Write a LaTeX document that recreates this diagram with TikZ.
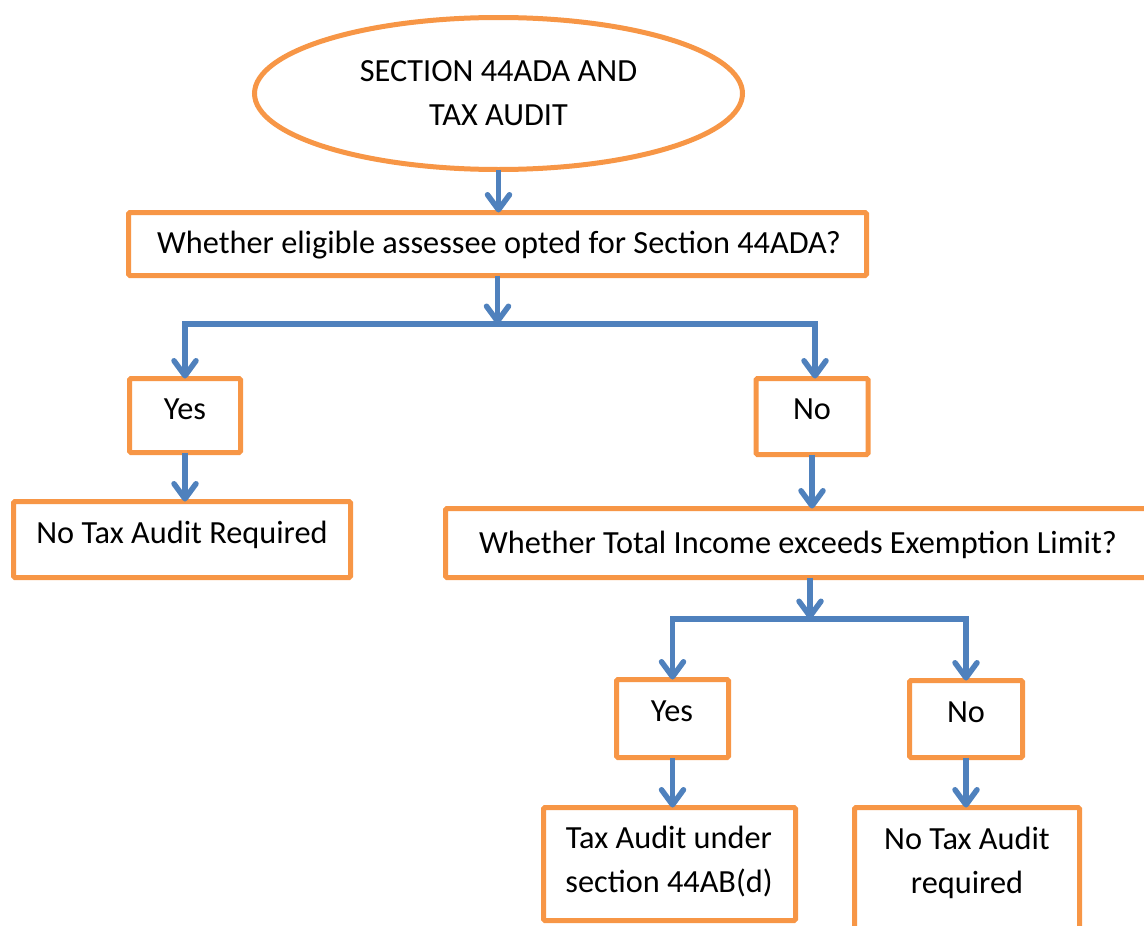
\documentclass[tikz,border=0pt]{standalone}
\usepackage{fontspec}
\setmainfont{Carlito}
\usetikzlibrary{arrows.meta,shapes.geometric}
\definecolor{boxorange}{HTML}{F79646}
\definecolor{flowblue}{HTML}{4F81BD}
\begin{document}
\begin{tikzpicture}[x=1pt,y=-1pt,
  box/.style={draw=boxorange, line width=5pt, rounded corners=1.5pt, fill=white,
              inner sep=0pt, outer sep=0pt},
  oval/.style={ellipse, draw=boxorange, line width=5pt, fill=white, inner sep=0pt,
               outer sep=0pt, minimum width=488pt, minimum height=152pt,
               align=center, font=\fontsize{32.3}{44}\selectfont},
  txt/.style={inner sep=0pt, anchor=base, align=center,
              font=\fontsize{32.3}{44}\selectfont},
  flow/.style={draw=flowblue, line width=5.5pt},
  arrow/.style={flow, -{Straight Barb[length=15pt,width=22pt,round]}}
]
\useasboundingbox (0,0) rectangle (1144,926);
\clip (0,0) rectangle (1144,926);

% title
\node[oval] (ell) at (498.5,93.5) {SECTION 44ADA AND\\TAX AUDIT};

% first question
\node[box, minimum width=738pt, minimum height=63pt] (q1) at (497.5,244) {};
\node[txt] (q1t) at (499,253) {Whether eligible assessee opted for Section 44ADA?};

% first level answers
\node[box, minimum width=111pt, minimum height=74pt] (yes1) at (185,415.5) {};
\node[txt] (yes1t) at (185,419) {Yes};
\node[box, minimum width=112pt, minimum height=76pt] (no1) at (812,416.5) {};
\node[txt] (no1t) at (812,419) {No};

\node[box, minimum width=337pt, minimum height=76pt] (ntar) at (182,539.5) {};
\node[txt] (ntart) at (182,543) {No Tax Audit Required};

% second question
\node[box, minimum width=712pt, minimum height=69pt] (q2) at (801.5,543) {};
\node[txt] (q2t) at (798,553) {Whether Total Income exceeds Exemption Limit?};

% second level answers
\node[box, minimum width=112pt, minimum height=78pt] (yes2) at (672.5,718.5) {};
\node[txt] (yes2t) at (672,721) {Yes};
\node[box, minimum width=113pt, minimum height=77pt] (no2) at (966,719) {};
\node[txt] (no2t) at (966,722) {No};

% outcomes (base anchor sits on the last line)
\node[box, minimum width=252pt, minimum height=113pt] (tau) at (669.5,864) {};
\node[txt] (taut) at (669,892) {Tax Audit under\\section 44AB(d)};
\node[box, minimum width=225pt, minimum height=150pt] (nta) at (967,882.5) {};
\node[txt] (ntat) at (967,893) {No Tax Audit\\required};

% connectors
\coordinate (j1) at (497.5,324);
\coordinate (j2) at (810,619);
\draw[arrow] (ell.south) -- (ell.south |- q1.north);
\draw[arrow] (q1.south) -- (j1);
\draw[arrow] (j1) -| (yes1.north);
\draw[arrow] (j1) -| ([xshift=3pt]no1.north);
\draw[arrow] (yes1.south) -- (yes1.south |- ntar.north);
\draw[arrow] (no1.south) -- (no1.south |- q2.north);
\draw[arrow] (j2 |- q2.south) -- (j2);
\draw[arrow] (j2) -| (yes2.north);
\draw[arrow] (j2) -| (no2.north);
\draw[arrow] (yes2.south) -- (yes2.south |- tau.north);
\draw[arrow] (no2.south) -- (no2.south |- nta.north);
\end{tikzpicture}
\end{document}
